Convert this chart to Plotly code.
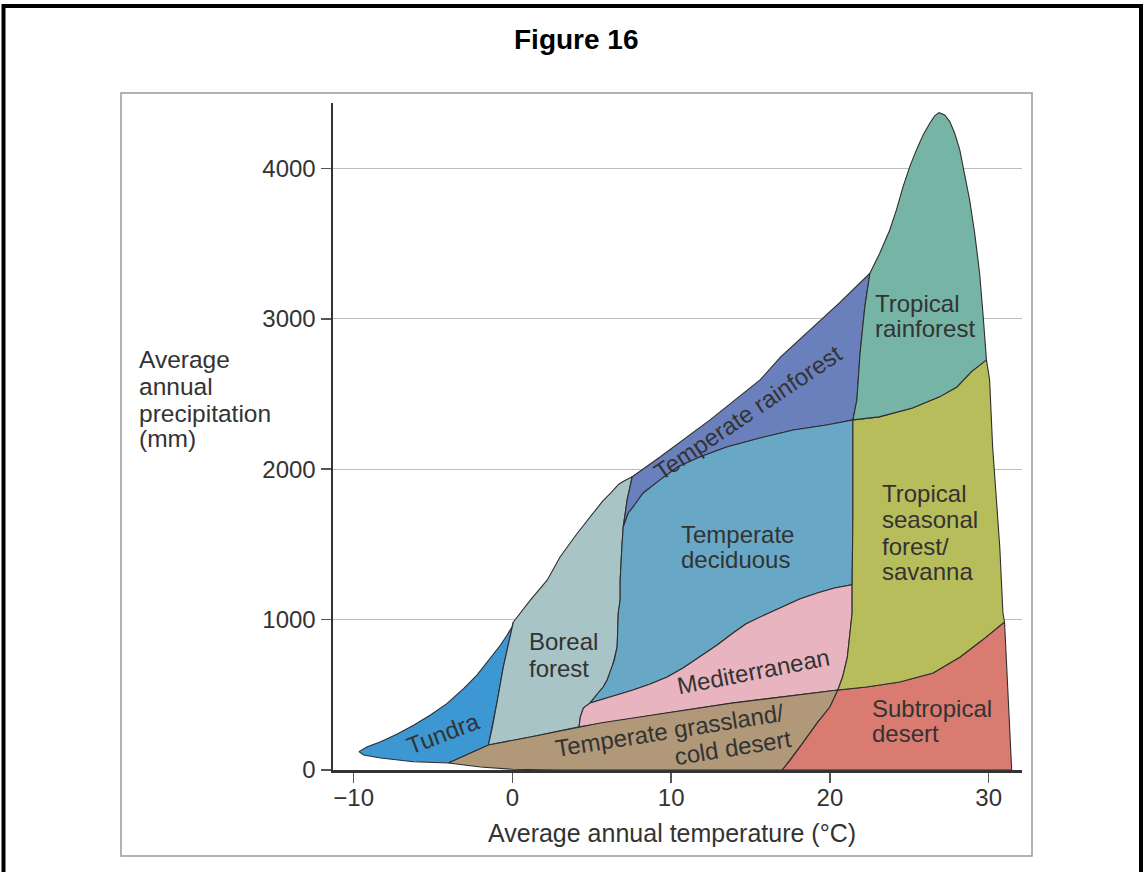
import plotly.graph_objects as go

# ---------------- data: biome boundaries (temperature degC, precipitation mm) -------------
tundra_top = [(-9.67, 122), (-9.14, 155), (-8.3, 188), (-7.25, 239), (-6.2, 299), (-5.16, 366),
              (-4.11, 443), (-3.06, 543), (-2.22, 632), (-1.38, 743), (-0.75, 831), (-0.33, 898),
              (-0.02, 953), (0.06, 984)]
tundra_bottom = [(-9.67, 122), (-9.37, 100), (-8.3, 80), (-6.23, 55), (-4.03, 47)]
tundra_boreal = [(0.06, 984), (-0.57, 685), (-0.94, 466), (-1.26, 286), (-1.51, 166)]

grass_tundra = [(-4.03, 47), (-2.8, 105), (-1.51, 166)]
grass_boreal = [(-1.51, 166), (1.13, 219), (4.2, 288)]
grass_med = [(4.2, 288), (5.53, 313), (7.6, 346), (9.75, 379), (11.8, 412), (13.9, 446),
             (16.0, 473), (18.1, 499), (20.5, 532)]
grass_bottom = [(-4.03, 47), (-2.0, 20), (0.0, 5), (3.0, 0), (17.0, 0)]
grass_desert = [(20.5, 532), (20.0, 419), (19.2, 313), (18.3, 180), (17.5, 66), (17.0, 0)]

desert_savanna = [(20.5, 532), (22.3, 552), (24.4, 585), (26.5, 645), (28.2, 751), (29.6, 864), (31.0, 984)]
desert_right = [(31.0, 984), (31.45, 0)]

sav_right = [(29.86, 2727), (30.06, 2594), (30.25, 2148), (30.7, 1483), (30.9, 1044), (31.0, 984)]
dec_sav = [(21.45, 2328), (21.45, 1709), (21.4, 1232)]
med_sav = [(21.4, 1232), (21.4, 1044), (21.1, 751), (20.8, 618), (20.5, 532)]

trf_sav = [(21.45, 2328), (23.1, 2348), (25.2, 2407), (26.9, 2481), (28.0, 2547), (28.9, 2647), (29.86, 2727)]
trf_left = [(21.45, 2328), (21.7, 2460), (21.9, 2773), (22.2, 3079), (22.52, 3303)]
trf_top = [(22.52, 3303), (23.14, 3436), (23.77, 3591), (24.19, 3724), (24.61, 3879), (25.03, 4012),
           (25.45, 4123), (25.87, 4223), (26.29, 4300), (26.6, 4349), (26.87, 4371), (27.23, 4356),
           (27.55, 4311), (27.86, 4234), (28.18, 4123), (28.49, 3968), (28.8, 3791), (29.12, 3569),
           (29.43, 3303), (29.64, 3037), (29.86, 2727)]

tr_top = [(7.55, 1950), (9.3, 2081), (12.45, 2328), (15.6, 2594), (16.9, 2747), (18.9, 2940),
          (20.6, 3106), (22.52, 3303)]
tr_dec = [(6.98, 1616), (7.3, 1709), (7.6, 1749), (8.24, 1842), (9.3, 1929), (10.4, 2015), (11.8, 2081),
          (13.5, 2148), (15.6, 2208), (17.7, 2261), (19.8, 2294), (21.45, 2328)]
tr_left = [(6.98, 1616), (7.23, 1796), (7.55, 1950)]

boreal_top = [(0.06, 984), (1.13, 1130), (2.2, 1264), (3.0, 1416), (4.1, 1576), (5.1, 1709),
              (5.7, 1790), (6.2, 1842), (6.7, 1900), (7.0, 1920), (7.55, 1950)]
dec_boreal = [(6.98, 1616), (6.9, 1490), (6.79, 1264), (6.79, 1130), (6.67, 1044), (6.6, 818),
              (6.42, 731), (6.29, 685), (5.97, 599), (5.72, 552), (5.4, 512), (4.9, 446)]
med_boreal = [(4.9, 446), (4.47, 412), (4.28, 352), (4.2, 288)]
med_top = [(4.9, 446), (5.53, 465), (7.6, 532), (8.68, 572), (9.75, 618), (10.75, 678),
           (11.8, 751), (12.9, 831), (13.9, 911), (14.7, 971), (15.6, 1017), (17.0, 1084),
           (18.1, 1137), (19.2, 1177), (20.3, 1210), (21.4, 1232)]

x_ticks = [-10, 0, 10, 20, 30]
y_ticks = [0, 1000, 2000, 3000, 4000]

biome_names = ["Tundra", "Boreal forest", "Temperate rainforest", "Temperate deciduous",
               "Mediterranean", "Temperate grassland/cold desert", "Subtropical desert",
               "Tropical seasonal forest/savanna", "Tropical rainforest"]
biome_colors = ["#3d97d3", "#a8c4c6", "#6a80bd", "#68a8c6", "#e8b4bf", "#b09878",
                "#d97b70", "#b8bd5c", "#76b5a6"]

# labels: (text, T, P, angle, xanchor)
labels = [
    ("Tundra", -4.4, 246, -21, "center"),
    ("Boreal", 0.94, 853, 0, "left"),
    ("forest", 0.94, 676, 0, "left"),
    ("Temperate rainforest", 14.84, 2374, -34, "center"),
    ("Temperate", 14.15, 1564, 0, "center"),
    ("deciduous", 14.05, 1398, 0, "center"),
    ("Mediterranean", 15.16, 652, -11, "center"),
    ("Temperate grassland/", 9.87, 262, -9, "center"),
    ("cold desert", 13.9, 150, -9, "center"),
    ("Tropical", 22.7, 3103, 0, "left"),
    ("rainforest", 22.7, 2933, 0, "left"),
    ("Tropical", 23.15, 1839, 0, "left"),
    ("seasonal", 23.15, 1663, 0, "left"),
    ("forest/", 23.15, 1486, 0, "left"),
    ("savanna", 23.15, 1320, 0, "left"),
    ("Subtropical", 22.5, 410, 0, "left"),
    ("desert", 22.5, 243, 0, "left"),
]


def rev(c):
    return list(reversed(c))


polygons = [
    tundra_top + tundra_boreal + rev(grass_tundra) + rev(tundra_bottom),
    boreal_top + rev(tr_left) + dec_boreal + med_boreal + rev(grass_boreal) + rev(tundra_boreal),
    tr_top + rev(trf_left) + rev(tr_dec) + tr_left,
    tr_dec + dec_sav + rev(med_top) + rev(dec_boreal),
    med_top + med_sav + rev(grass_med) + rev(med_boreal),
    grass_tundra + grass_boreal + grass_med + grass_desert + rev(grass_bottom),
    rev(grass_desert) + desert_savanna + desert_right + [grass_desert[-1]],
    trf_sav + sav_right + rev(desert_savanna) + rev(med_sav) + rev(dec_sav),
    trf_left + trf_top + rev(trf_sav),
]

# ---------------- layout geometry (pixels) ----------------
W, H = 1145, 872
PL, PR, PT, PB = 333, 1022, 103, 770


def xp(px):
    return (px - PL) / (PR - PL)


def yp(py):
    return (PB - py) / (PB - PT)


FONT = "Liberation Sans, Arial, Helvetica, sans-serif"
TXT = "#333333"

fig = go.Figure()
for name, col, poly in zip(biome_names, biome_colors, polygons):
    fig.add_trace(go.Scatter(
        x=[p[0] for p in poly], y=[p[1] for p in poly],
        mode="lines", fill="toself", fillcolor=col,
        line=dict(color="#2e2e2e", width=1.1),
        name=name, hoverinfo="skip", showlegend=False,
    ))

annotations = []
for text, t, p, ang, xa in labels:
    annotations.append(dict(
        x=t, y=p, xref="x", yref="y", text=text, showarrow=False,
        textangle=ang, xanchor=xa, yanchor="middle",
        font=dict(family=FONT, size=24, color=TXT),
    ))

# title
annotations.append(dict(x=xp(576), y=yp(40), xref="paper", yref="paper", text="<b>Figure 16</b>",
                        showarrow=False, xanchor="center", yanchor="middle",
                        font=dict(family=FONT, size=28, color="#000000")))
# x axis title
annotations.append(dict(x=xp(672), y=yp(833), xref="paper", yref="paper",
                        text="Average annual temperature (°C)", showarrow=False,
                        xanchor="center", yanchor="middle",
                        font=dict(family=FONT, size=25, color=TXT)))
# y axis title lines
for txt, cy in [("Average", 359.5), ("annual", 386.5), ("precipitation", 413.5), ("(mm)", 438.5)]:
    annotations.append(dict(x=xp(137), y=yp(cy), xref="paper", yref="paper", text=txt,
                            showarrow=False, xanchor="left", yanchor="middle",
                            font=dict(family=FONT, size=24.5, color=TXT)))

shapes = [
    dict(type="rect", xref="paper", yref="paper", x0=xp(3.5), x1=xp(1141), y0=yp(880), y1=yp(6),
         line=dict(color="#000000", width=4), fillcolor="rgba(0,0,0,0)", layer="below"),
    dict(type="rect", xref="paper", yref="paper", x0=xp(121), x1=xp(1032), y0=yp(856), y1=yp(93),
         line=dict(color="#999999", width=1.5), fillcolor="rgba(0,0,0,0)", layer="below"),
]

fig.update_layout(
    width=W, height=H,
    margin=dict(l=PL, r=W - PR, t=PT, b=H - PB, pad=0),
    paper_bgcolor="white", plot_bgcolor="white",
    showlegend=False,
    annotations=annotations,
    shapes=shapes,
    xaxis=dict(range=[-11.3, 32.1], tickvals=x_ticks, showgrid=False, zeroline=False,
               showline=True, linecolor="#333333", linewidth=2.5,
               ticks="outside", ticklen=10, tickwidth=1.5, tickcolor="#555555",
               ticklabelstandoff=-5,
               tickfont=dict(family=FONT, size=24, color=TXT), fixedrange=True),
    yaxis=dict(range=[0, 4435], tickvals=y_ticks, showgrid=True, gridcolor="#bdbdbd", gridwidth=1,
               zeroline=False, showline=True, linecolor="#333333", linewidth=2.5,
               ticks="outside", ticklen=10, tickwidth=1.5, tickcolor="#555555",
               tickfont=dict(family=FONT, size=24, color=TXT), fixedrange=True),
)

fig.write_html("out.html",
               config={"displayModeBar": False, "staticPlot": True},
               post_script="document.body.style.margin='0';document.body.style.overflow='hidden';"
                           "document.documentElement.style.overflow='hidden';")
